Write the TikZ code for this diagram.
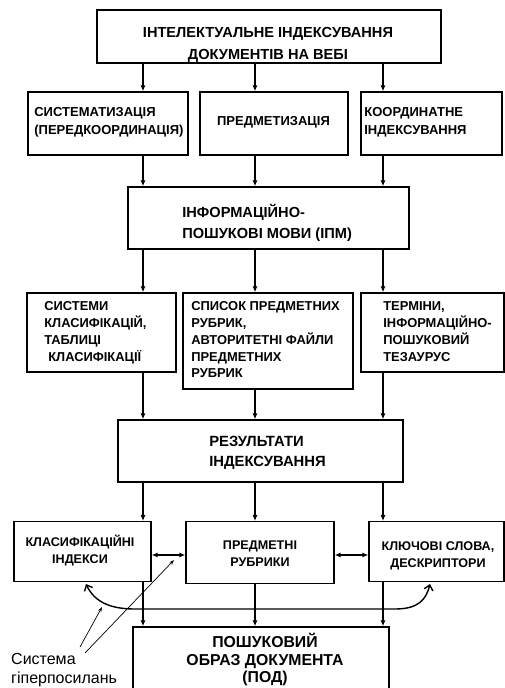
\documentclass[tikz,border=0pt]{standalone}
\usepackage{fontspec}
\setmainfont{Liberation Sans}
\usetikzlibrary{arrows.meta}
\begin{document}
\begin{tikzpicture}[x=1pt,y=-1pt,
  box/.style={draw, line width=1.3pt, inner sep=0pt, fill=white},
  txt/.style={inner sep=0pt, outer sep=0pt},
  ftop/.style={txt, font=\fontsize{14.6}{21.5}\selectfont\bfseries},
  fipm/.style={txt, font=\fontsize{14.6}{21}\selectfont\bfseries},
  frow/.style={txt, font=\fontsize{13}{18}\selectfont\bfseries},
  fmid/.style={txt, font=\fontsize{12.9}{16.7}\selectfont\bfseries},
  fres/.style={txt, font=\fontsize{14.8}{20}\selectfont\bfseries},
  flow/.style={txt, font=\fontsize{12.6}{16.9}\selectfont\bfseries},
  fpod/.style={txt, font=\fontsize{15.8}{17.5}\selectfont\bfseries},
  arr/.style={line width=1.2pt, -{Latex[length=6pt,width=5pt]}},
  darr/.style={line width=1.2pt, {Latex[length=6pt,width=5pt]}-{Latex[length=6pt,width=5pt]}},
  curv/.style={line width=1.4pt, {Straight Barb[length=5pt,width=9pt]}-{Straight Barb[length=5pt,width=9pt]}},
  ptr/.style={line width=0.7pt, -{Stealth[length=5pt,width=3.5pt]}},
  note/.style={font=\fontsize{16}{18.5}\selectfont, align=left, inner sep=0pt}]
\useasboundingbox (0,0) rectangle (505,688);
\clip (0,0) rectangle (505,688);
\fill[white] (0,0) rectangle (505,688);

\coordinate (xa) at (143,0);
\coordinate (xb) at (255,0);
\coordinate (xc) at (383,0);

% ---- boxes with their texts
\node[box, minimum width=344pt, minimum height=53pt,
  label={[name=topT, ftop, align=center, anchor=north, xshift=-1pt, yshift=-14pt]north:{\rule{0pt}{1em}ІНТЕЛЕКТУАЛЬНЕ ІНДЕКСУВАННЯ\\ДОКУМЕНТІВ НА ВЕБІ}}]
  (top) at (269,36.5) {};

\node[box, minimum width=160pt, minimum height=63pt,
  label={[name=s1T, frow, align=left, anchor=north west, xshift=7pt, yshift=-12pt]north west:{\rule{0pt}{1em}СИСТЕМАТИЗАЦІЯ\\(ПЕРЕДКООРДИНАЦІЯ)}}]
  (s1) at (108,123.5) {};
\node[box, minimum width=148pt, minimum height=63pt,
  label={[name=s2T, frow, align=center, anchor=north, xshift=-0.5pt, yshift=-21.5pt]north:{\rule{0pt}{1em}ПРЕДМЕТИЗАЦІЯ}}]
  (s2) at (274,123.5) {};
\node[box, minimum width=141pt, minimum height=63pt,
  label={[name=s3T, frow, align=left, anchor=north west, xshift=4pt, yshift=-12pt]north west:{\rule{0pt}{1em}КООРДИНАТНЕ\\ІНДЕКСУВАННЯ}}]
  (s3) at (431.5,123.5) {};

\node[box, minimum width=281pt, minimum height=62pt,
  label={[name=ipmT, fipm, align=left, anchor=north west, xshift=55pt, yshift=-16.6pt]north west:{\rule{0pt}{1em}ІНФОРМАЦІЙНО-\\ПОШУКОВІ МОВИ (ІПМ)}}]
  (ipm) at (268.5,218) {};

\node[box, minimum width=149pt, minimum height=79pt,
  label={[name=k1T, fmid, align=left, anchor=north west, xshift=18pt, yshift=-5.7pt]north west:{\rule{0pt}{1em}СИСТЕМИ\\КЛАСИФІКАЦІЙ,\\ТАБЛИЦІ\\\hspace*{4pt}КЛАСИФІКАЦІЇ}}]
  (k1) at (101.5,332.5) {};
\node[box, minimum width=170pt, minimum height=96pt,
  label={[name=k2T, fmid, align=left, anchor=north west, xshift=9pt, yshift=-5.7pt]north west:{\rule{0pt}{1em}СПИСОК ПРЕДМЕТНИХ\\РУБРИК,\\АВТОРИТЕТНІ ФАЙЛИ\\ПРЕДМЕТНИХ\\РУБРИК}}]
  (k2) at (268,341) {};
\node[box, minimum width=143pt, minimum height=79pt,
  label={[name=k3T, fmid, align=left, anchor=north west, xshift=23pt, yshift=-5.7pt]north west:{\rule{0pt}{1em}ТЕРМІНИ,\\ІНФОРМАЦІЙНО-\\ПОШУКОВИЙ\\ТЕЗАУРУС}}]
  (k3) at (432.5,332.5) {};

\node[box, minimum width=285pt, minimum height=62pt,
  label={[name=resT, fres, align=left, anchor=north west, xshift=92pt, yshift=-12.5pt]north west:{\rule{0pt}{1em}РЕЗУЛЬТАТИ\\ІНДЕКСУВАННЯ}}]
  (res) at (260.5,451) {};

\node[box, minimum width=137pt, minimum height=60pt,
  label={[name=r1T, flow, align=center, anchor=north, xshift=-2.5pt, yshift=-12.9pt]north:{\rule{0pt}{1em}КЛАСИФІКАЦІЙНІ\\ІНДЕКСИ}}]
  (r1) at (82.5,551.7) {};
\node[box, minimum width=148pt, minimum height=62pt,
  label={[name=r2T, flow, align=center, anchor=north, yshift=-16.4pt]north:{\rule{0pt}{1em}ПРЕДМЕТНІ\\РУБРИКИ}}]
  (r2) at (260,552.5) {};
\node[box, minimum width=135pt, minimum height=60pt,
  label={[name=r3T, flow, align=center, anchor=north, xshift=1.5pt, yshift=-16.9pt]north:{\rule{0pt}{1em}КЛЮЧОВІ СЛОВА,\\ДЕСКРИПТОРИ}}]
  (r3) at (436.5,551.7) {};

\node[box, minimum width=256pt, minimum height=66pt,
  label={[name=podT, fpod, align=center, anchor=north, xshift=4pt, yshift=-5.6pt]north:{\rule{0pt}{1em}ПОШУКОВИЙ\\ОБРАЗ ДОКУМЕНТА\\(ПОД)}}]
  (pod) at (261,660) {};

% ---- vertical arrows
\foreach \c in {xa,xb,xc} {
  \draw[arr] (\c |- top.south) -- (\c |- s1.north);
  \draw[arr] (\c |- s1.south) -- (\c |- ipm.north);
  \draw[arr] (\c |- ipm.south) -- (\c |- k1.north);
  \draw[arr] (\c |- res.south) -- (\c |- r1.north);
}
\draw[arr] (xa |- k1.south) -- (xa |- res.north);
\draw[arr] (xb |- k2.south) -- (xb |- res.north);
\draw[arr] (xc |- k3.south) -- (xc |- res.north);
\draw[arr] (xa |- r1.south) -- (xa |- pod.north);
\draw[arr] (xb |- r2.south) -- (xb |- pod.north);
\draw[arr] (xc |- r3.south) -- (xc |- pod.north);

% ---- double arrows
\coordinate (dy) at (0,555);
\draw[darr] (r1.east |- dy) -- (r2.west |- dy);
\draw[darr] (r2.east |- dy) -- (r3.west |- dy);

% ---- hyperlink curve
\coordinate (c1) at (86,584);
\coordinate (c2) at (430,584);
\draw[curv] (c1) .. controls (95,603) and (112,609) .. (135,609) -- (395,609) .. controls (418,609) and (426,600) .. (c2);

% ---- note
\node[note, anchor=west] (lbl) at (11,670) {Система\\гіперпосилань};
\coordinate (p1a) at (80,647);
\coordinate (p1b) at (102,607);
\coordinate (p2a) at (85,653);
\coordinate (p2b) at (174,560);
\draw[ptr] (p1a) -- (p1b);
\draw[ptr] (p2a) -- (p2b);
\end{tikzpicture}
\end{document}
